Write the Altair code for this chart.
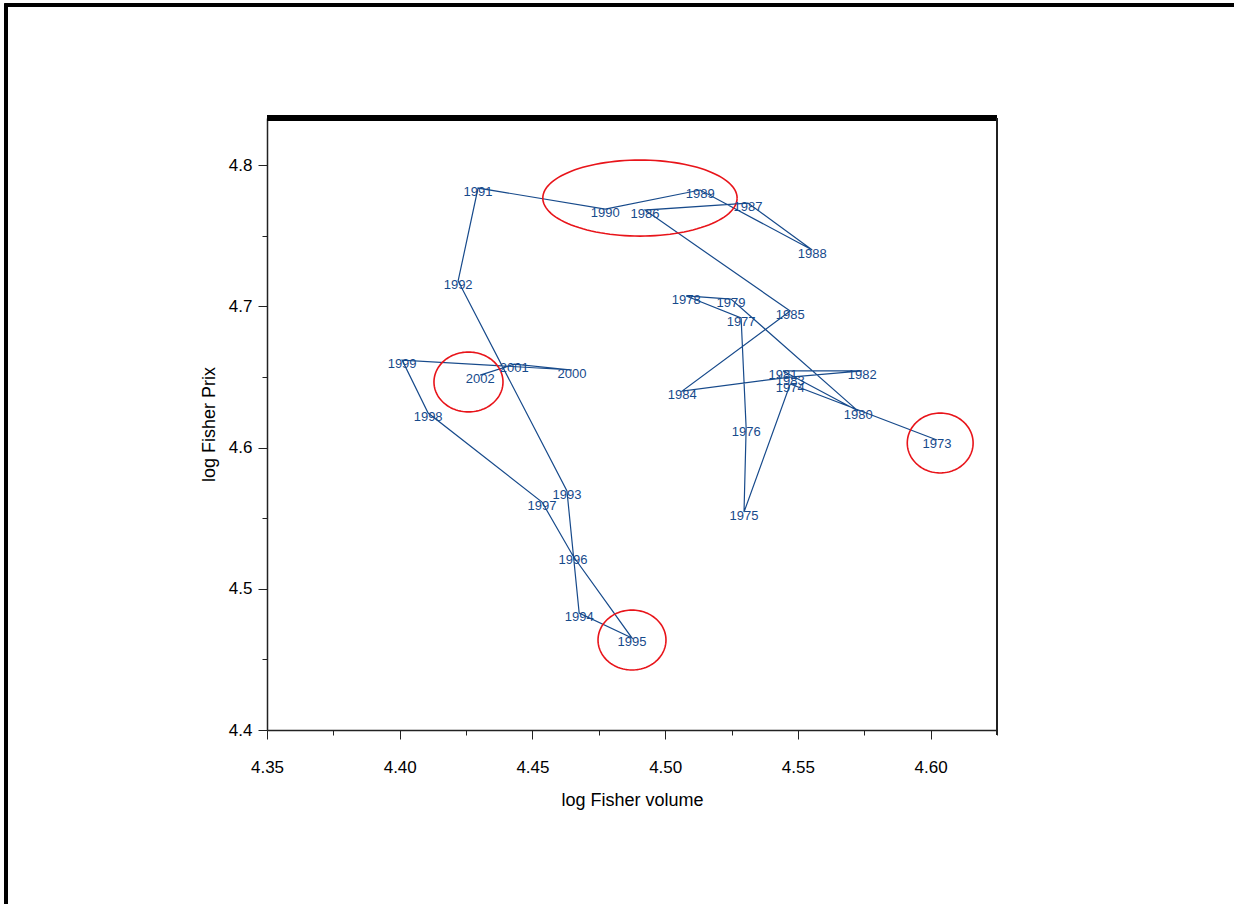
import altair as alt
import numpy as np
import pandas as pd

# Annual path of log Fisher volume vs log Fisher price, 1973-2002
years = list(range(1973, 2003))
log_volume = [
    4.6024, 4.5471, 4.5297, 4.5305, 4.5286, 4.5079, 4.5248, 4.5727, 4.5444, 4.5742,
    4.5471, 4.5064, 4.5471, 4.4924, 4.5312, 4.5554, 4.5132, 4.4774, 4.4295, 4.4220,
    4.4630, 4.4676, 4.4875, 4.4653, 4.4536, 4.4107, 4.4009, 4.4649, 4.4431, 4.4303,
]
log_price = [
    4.6053, 4.6450, 4.5543, 4.6138, 4.6917, 4.7073, 4.7051, 4.6258, 4.6542, 4.6542,
    4.6499, 4.6400, 4.6966, 4.7681, 4.7731, 4.7398, 4.7823, 4.7688, 4.7837, 4.7179,
    4.5692, 4.4828, 4.4651, 4.5232, 4.5614, 4.6244, 4.6619, 4.6549, 4.6590, 4.6513,
]

# Highlight ellipses: centre (volume, price) and semi-axes in data units
ell_cx = [4.4905, 4.4259, 4.4875, 4.6036]
ell_cy = [4.7766, 4.6464, 4.4637, 4.6032]
ell_rx = [0.0366, 0.0130, 0.0128, 0.0124]
ell_ry = [0.0269, 0.0212, 0.0212, 0.0212]

x_major = [4.35, 4.40, 4.45, 4.50, 4.55, 4.60]
x_minor = [4.375, 4.425, 4.475, 4.525, 4.575, 4.625]
y_major = [4.4, 4.5, 4.6, 4.7, 4.8]
y_minor = [4.45, 4.55, 4.65, 4.75]

path = pd.DataFrame({"year": years, "vol": log_volume, "prix": log_price,
                     "order": list(range(len(years)))})

t = np.linspace(0, 2 * np.pi, 121)
ell_rows = []
for i, (cx, cy, rx, ry) in enumerate(zip(ell_cx, ell_cy, ell_rx, ell_ry)):
    for k, a in enumerate(t):
        ell_rows.append({"id": i, "k": k, "vol": cx + rx * np.cos(a), "prix": cy + ry * np.sin(a)})
ellipses = pd.DataFrame(ell_rows)

W, H = 730, 612
FONT = "Liberation Sans"
BLUE = "#174a8b"

x_scale = alt.Scale(domain=[4.35, 4.625], nice=False, zero=False)
y_scale = alt.Scale(domain=[4.4, 4.8333], nice=False, zero=False)

x_axis = alt.Axis(
    title="log Fisher volume", values=x_major + x_minor,
    labelExpr="round(datum.value*1000) % 50 == 0 ? format(datum.value, '.2f') : ''",
    tickSize={"condition": {"test": "round(datum.value*1000) % 50 != 0", "value": 5}, "value": 9},
    labelFont=FONT, labelFontSize=17, labelColor="black", labelPadding=20,
    labelOverlap=False, labelFlush=False,
    titleFont=FONT, titleFontSize=18, titleFontWeight="normal", titleColor="black", titlePadding=16,
    domainColor="#222222", domainWidth=1.5, tickColor="#222222", tickWidth=1, grid=False,
)
y_axis = alt.Axis(
    title="log Fisher Prix", values=y_major + y_minor,
    labelExpr="round(datum.value*1000) % 100 == 0 ? format(datum.value, '.1f') : ''",
    tickSize={"condition": {"test": "round(datum.value*1000) % 100 != 0", "value": 5}, "value": 9},
    labelFont=FONT, labelFontSize=17, labelColor="black", labelPadding=6,
    labelOverlap=False, labelFlush=False,
    titleFont=FONT, titleFontSize=18, titleFontWeight="normal", titleColor="black", titlePadding=10,
    domainColor="#222222", domainWidth=1.5, tickColor="#222222", tickWidth=1, grid=False,
)

line = alt.Chart(path).mark_line(color=BLUE, strokeWidth=1.2).encode(
    x=alt.X("vol:Q", scale=x_scale, axis=x_axis),
    y=alt.Y("prix:Q", scale=y_scale, axis=y_axis),
    order="order:O",
)

labels = alt.Chart(path).mark_text(
    color=BLUE, font=FONT, fontSize=13, align="center", baseline="middle", dy=4,
).encode(
    x=alt.X("vol:Q", scale=x_scale),
    y=alt.Y("prix:Q", scale=y_scale),
    text="year:N",
)

rings = alt.Chart(ellipses).mark_line(color="#e8141a", strokeWidth=1.6).encode(
    x=alt.X("vol:Q", scale=x_scale),
    y=alt.Y("prix:Q", scale=y_scale),
    detail="id:N",
    order="k:Q",
)

top_bar = alt.Chart(path).mark_rule(color="black", strokeWidth=5).encode(
    x=alt.value(0), x2=alt.value(W), y=alt.value(0)
)

right_edge = alt.Chart(path).mark_rule(color="#222222", strokeWidth=1.5).encode(
    x=alt.value(W), y=alt.value(0), y2=alt.value(H + 5)
)

outer_frame = alt.Chart(path).mark_rect(
    fill=None, stroke="black", strokeWidth=2.5
).encode(
    x=alt.value(-261), x2=alt.value(990), y=alt.value(-113), y2=alt.value(800)
)

chart = alt.layer(outer_frame, line, rings, labels, top_bar, right_edge).properties(
    width=W, height=H,
    autosize=alt.AutoSizeParams(type="none"),
    padding={"left": 267, "top": 118, "right": 237, "bottom": 174},
    background="white",
).configure_view(stroke=None)

chart.save("out.html", embed_options={"renderer": "svg", "actions": False})
